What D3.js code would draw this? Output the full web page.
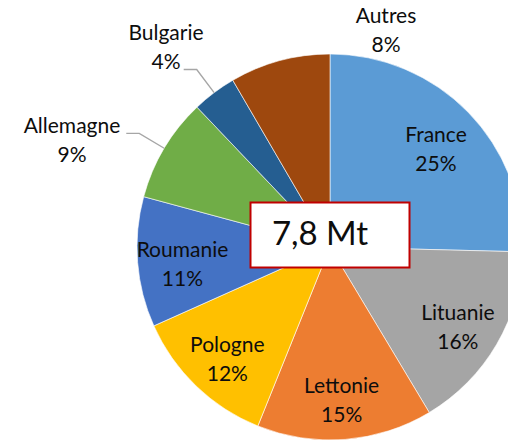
<!DOCTYPE html>
<html>
<head>
<meta charset="utf-8">
<script src="https://cdn.jsdelivr.net/npm/d3@7"></script>
<style>
body { margin: 0; background: white; }
text { font-family: Lato, "Open Sans", sans-serif; fill: #0d0d0d; }
</style>
</head>
<body>
<script>
// share of the total (%), clockwise from 12 o'clock
const countries = ["France", "Lituanie", "Lettonie", "Pologne", "Roumanie", "Allemagne", "Bulgarie", "Autres"];
const shares = [25.4, 16.0, 14.7, 12.2, 10.9, 8.7, 3.7, 8.4];
const shareLabels = ["25%", "16%", "15%", "12%", "11%", "9%", "4%", "8%"];
const colors = ["#5B9BD5", "#A5A5A5", "#ED7D31", "#FFC000", "#4472C4", "#70AD47", "#255E91", "#9E480E"];
const totalLabel = "7,8 Mt";

const W = 508, H = 440;
const cx = 330, cy = 247, r = 193;

// labels drawn outside the pie (with or without leader)
const outside = {
  "Autres":    {x: 386, y: 23, leader: false},
  "Bulgarie":  {x: 166, y: 40, leader: true},
  "Allemagne": {x: 72,  y: 133, leader: true}
};

const svg = d3.select("body").append("svg")
  .attr("width", W).attr("height", H);

const g = svg.append("g").attr("transform", `translate(${cx},${cy})`);

const data = countries.map((c, i) => ({name: c, value: shares[i], label: shareLabels[i], color: colors[i]}));

const pie = d3.pie().sort(null).value(d => d.value);
const arcs = pie(data);

const arc = d3.arc().innerRadius(0).outerRadius(r);
const labelArc = d3.arc().innerRadius(148).outerRadius(148);

g.selectAll("path.slice").data(arcs).join("path")
  .attr("class", "slice")
  .attr("d", arc)
  .attr("fill", d => d.data.color)
  .attr("stroke", "#fff")
  .attr("stroke-width", 0.6);

// leader lines
const polar = (a, rad) => [Math.sin(a) * rad, -Math.cos(a) * rad];
arcs.filter(d => outside[d.data.name] && outside[d.data.name].leader).forEach(d => {
  const mid = (d.startAngle + d.endAngle) / 2;
  const p0 = polar(mid, r);
  const p1 = polar(mid, 222);
  const p2 = [p1[0] - 13, p1[1]];
  g.append("polyline")
    .attr("points", [p0, p1, p2].map(p => p.join(",")).join(" "))
    .attr("fill", "none")
    .attr("stroke", "#A6A6A6")
    .attr("stroke-width", 1.4);
});

// data labels
const lineH = 29;
arcs.forEach(d => {
  const o = outside[d.data.name];
  let x, y;
  if (o) {
    x = o.x - cx; y = o.y - cy;
  } else {
    const c = labelArc.centroid(d);
    x = c[0]; y = c[1] - lineH / 2 + 13;
  }
  const t = g.append("text")
    .attr("text-anchor", "middle")
    .attr("font-size", 21);
  t.append("tspan").attr("x", x).attr("y", y).text(d.data.name);
  t.append("tspan").attr("x", x).attr("y", y + lineH).text(d.data.label);
});

// total box
const box = svg.append("g").attr("transform", `translate(${cx},${cy - 12})`);
box.append("rect")
  .attr("x", -79.5).attr("y", -32.5)
  .attr("width", 159).attr("height", 65)
  .attr("fill", "#fff")
  .attr("stroke", "#C00000")
  .attr("stroke-width", 2);
box.append("text")
  .attr("x", -10).attr("y", 10)
  .attr("text-anchor", "middle")
  .attr("font-size", 33)
  .text(totalLabel);
</script>
</body>
</html>
